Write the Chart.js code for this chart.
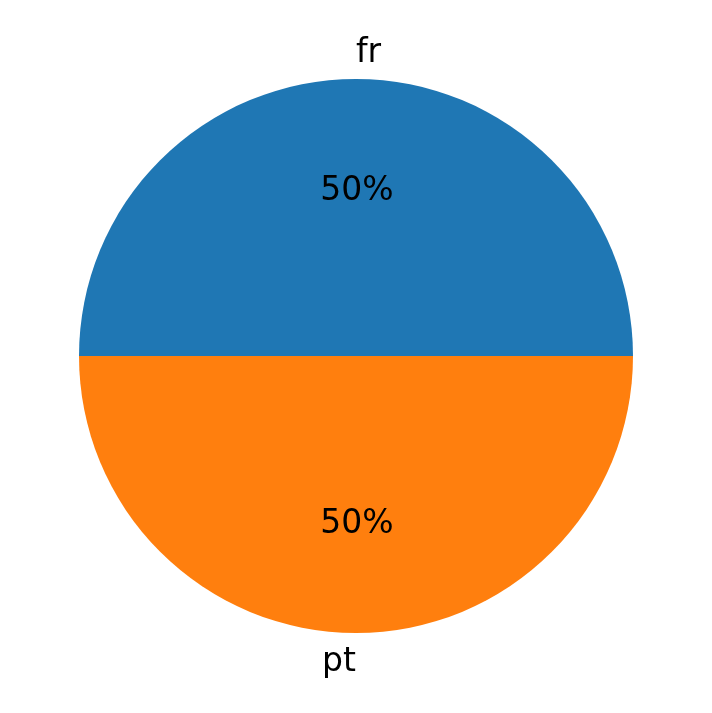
<!DOCTYPE html>
<html>
<head>
<meta charset="utf-8">
<script src="https://cdn.jsdelivr.net/npm/chart.js@4/dist/chart.umd.min.js"></script>
<style>
  html, body { margin: 0; padding: 0; background: #fff; }
  #wrap { width: 712px; height: 713px; }
</style>
</head>
<body>
<div id="wrap"><canvas id="pie"></canvas></div>
<script>
const labels = ['fr', 'pt'];
const values = [1, 1];
const colors = ['#1f77b4', '#ff7f0e'];

// labels outside at 1.1r, percentages inside at 0.6r (like matplotlib autopct)
const sliceLabels = {
    id: 'sliceLabels',
    afterDatasetsDraw(chart) {
        const ctx = chart.ctx;
        const meta = chart.getDatasetMeta(0);
        const total = values.reduce((a, b) => a + b, 0);
        const dy = 2; // small nudge, canvas 'middle' sits a bit high
        ctx.save();
        ctx.fillStyle = '#000';
        ctx.font = '33px "DejaVu Sans"';
        ctx.textBaseline = 'middle';
        meta.data.forEach((arc, i) => {
            const p = arc.getProps(['x', 'y', 'startAngle', 'endAngle', 'outerRadius']);
            const mid = (p.startAngle + p.endAngle) / 2;
            const r = p.outerRadius;
            // counter-clockwise angle, matplotlib style, for the alignment side
            let theta = ((-mid) % (2 * Math.PI) + 2 * Math.PI) % (2 * Math.PI);
            ctx.textAlign = Math.cos(theta) > 0 ? 'left' : 'right';
            ctx.fillText(labels[i], p.x + Math.cos(mid) * r * 1.1, p.y + Math.sin(mid) * r * 1.1 + dy);

            ctx.textAlign = 'center';
            const pct = (values[i] / total * 100).toFixed(0) + '%';
            ctx.fillText(pct, p.x + Math.cos(mid) * r * 0.6 + 1, p.y + Math.sin(mid) * r * 0.6 + dy);
        });
        ctx.restore();
    }
};

new Chart(document.getElementById('pie'), {
    type: 'pie',
    data: {
        labels: labels,
        datasets: [{
            data: values,
            backgroundColor: colors,
            borderWidth: 0
        }]
    },
    options: {
        responsive: true,
        maintainAspectRatio: false,
        animation: false,
        rotation: -90,
        layout: { padding: { left: 79, right: 79, top: 79, bottom: 80 } },
        plugins: {
            legend: { display: false },
            tooltip: { enabled: false }
        }
    },
    plugins: [sliceLabels]
});
</script>
</body>
</html>
